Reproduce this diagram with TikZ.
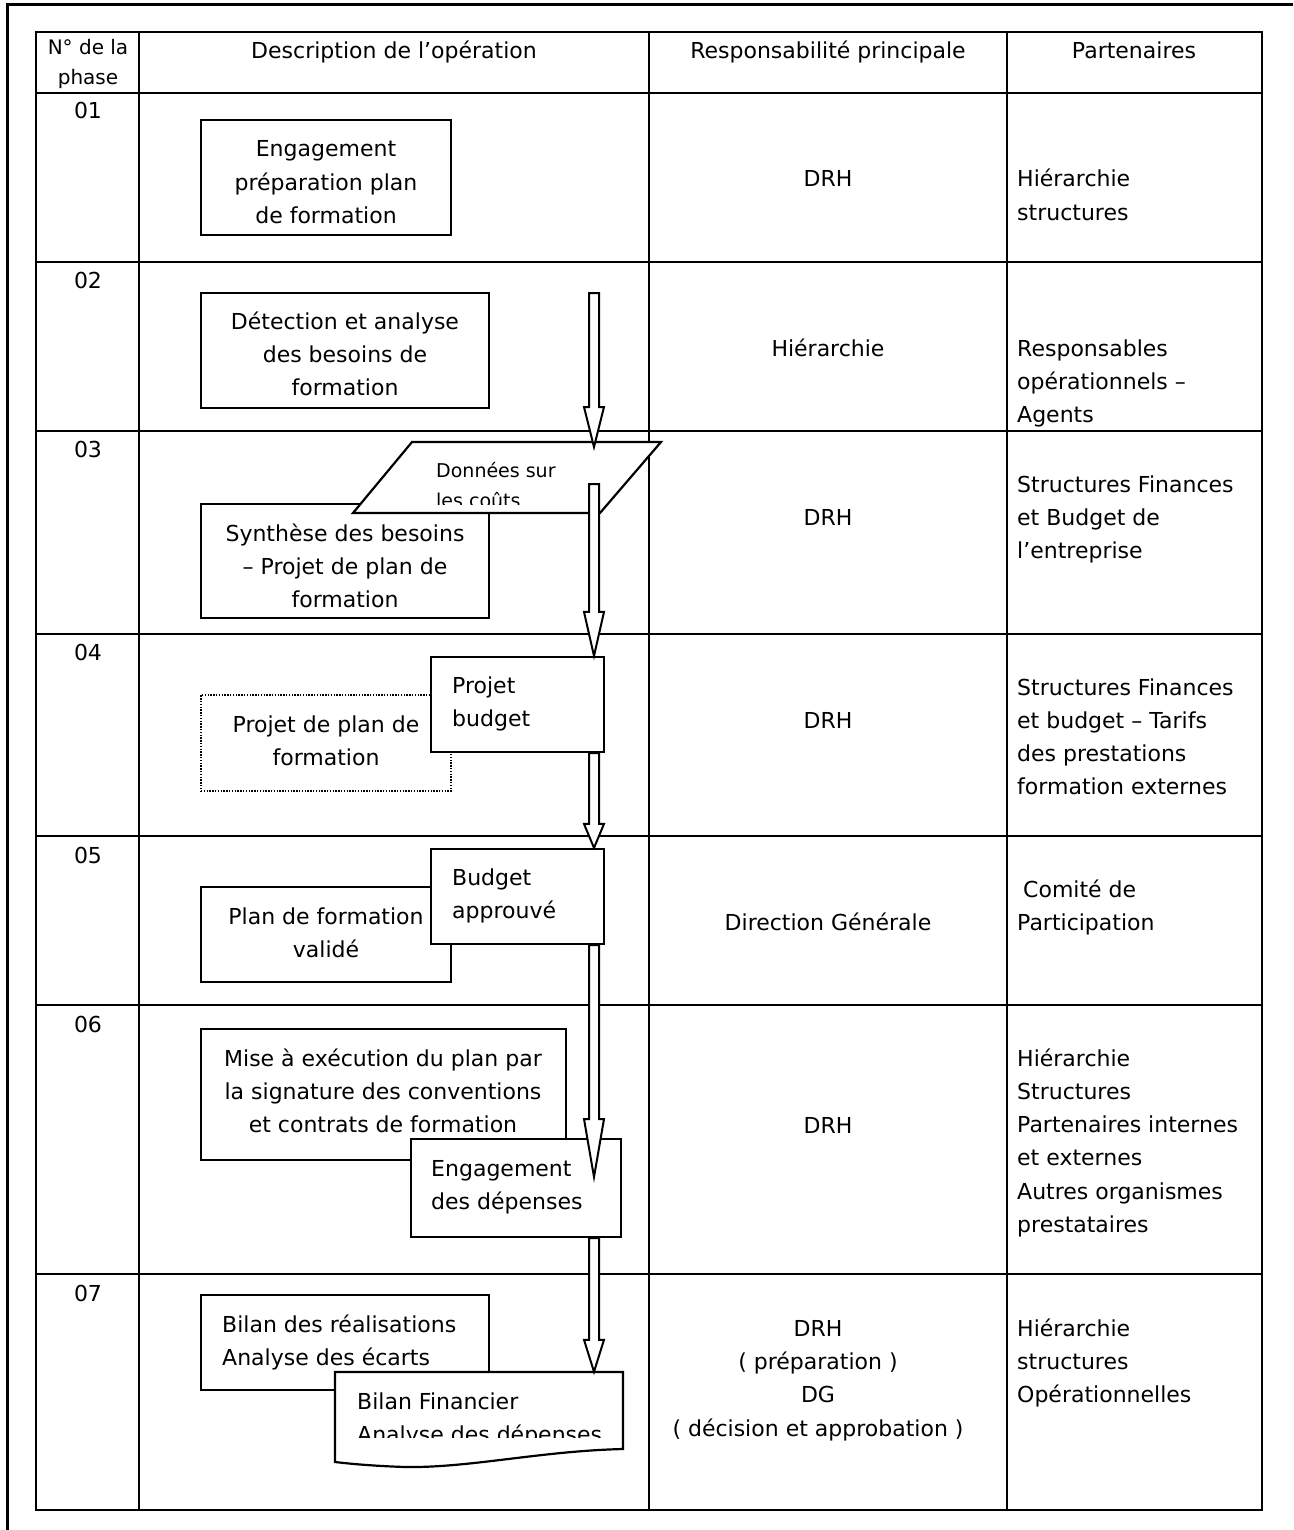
\documentclass[tikz,border=0pt]{standalone}
\usepackage{fontspec}
\setmainfont{DejaVu Sans}
\usetikzlibrary{calc,fit}

% hollow downward arrow: start, tip, head length
\newcommand\hollowarrow[3]{%
  \draw[harrow] let \p1=(#1), \p2=(#2) in
    (\x1-5pt,\y1) -- (\x1-5pt,\y2+#3) -- (\x1-10pt,\y2+#3) -- (\x1,\y2)
    -- (\x1+10pt,\y2+#3) -- (\x1+5pt,\y2+#3) -- (\x1+5pt,\y1) -- cycle;}

\begin{document}
% multi-line texts are placed by the baseline of their last line
\begin{tikzpicture}[x=1pt,y=-1pt,
  every node/.style={inner sep=0pt},
  txt/.style={font=\fontsize{22}{33.3}\selectfont},
  small/.style={font=\fontsize{19}{30}\selectfont},
  hdr/.style={font=\fontsize{20}{30}\selectfont},
  grid/.style={line width=2.2pt},
  frame/.style={line width=3pt},
  box/.style={draw, line width=2.2pt, fill=white, inner sep=0pt},
  dotbox/.style={draw, line width=1.4pt, dash pattern=on 1.4pt off 1.4pt},
  harrow/.style={draw, fill=white, line width=2pt, line join=miter},
  ctext/.style={txt, align=center, anchor=base},
  ltext/.style={txt, align=left, anchor=base west},
]
\useasboundingbox (0,0) rectangle (1293,1530);

% page frame
\draw[frame] (7,1530) -- (7,5) -- (1293,5);

% table grid
\draw[grid, line width=2.8pt] (36,32) rectangle (1262,1510);
\foreach \x in {139,649,1007} \draw[grid] (\x,32) -- (\x,1510);
\foreach \y in {93,262,431,634,836,1005,1274} \draw[grid] (36,\y) -- (1262,\y);

% headers
\node[hdr, align=center, anchor=base] (h1) at (88,85) {N° de la\\phase};
\node[ctext] (h2) at (394,59) {Description de l’opération};
\node[ctext] (h3) at (828,59) {Responsabilité principale};
\node[ctext] (h4) at (1134,59) {Partenaires};

% phase numbers
\node[ctext] (p1) at (88,119) {01};
\node[ctext] (p2) at (88,288) {02};
\node[ctext] (p3) at (88,457) {03};
\node[ctext] (p4) at (88,660) {04};
\node[ctext] (p5) at (88,863) {05};
\node[ctext] (p6) at (88,1032) {06};
\node[ctext] (p7) at (88,1301) {07};

% main responsibility
\node[ctext] (r1) at (828,187) {DRH};
\node[ctext] (r2) at (828,356) {Hiérarchie};
\node[ctext] (r3) at (828,525) {DRH};
\node[ctext] (r4) at (828,728) {DRH};
\node[ctext] (r5) at (828,930) {Direction Générale};
\node[ctext] (r6) at (828,1133) {DRH};
\node[ctext] (r7) at (818,1436) {DRH\\( préparation )\\DG\\( décision et approbation )};

% partners
\node[ltext] (q1) at (1017,220.3) {Hiérarchie\\structures};
\node[ltext] (q2) at (1017,422.6) {Responsables\\opérationnels –\\Agents};
\node[ltext] (q3) at (1017,558.6) {Structures Finances\\et Budget de\\l’entreprise};
\node[ltext] (q4) at (1017,794.9) {Structures Finances\\et budget – Tarifs\\des prestations\\formation externes};
\node[ltext] (q5) at (1017,930.3) {\hspace*{6pt}Comité de\\Participation};
\node[ltext] (q6) at (1017,1232.5) {Hiérarchie\\Structures\\Partenaires internes\\et externes\\Autres organismes\\prestataires};
\node[ltext] (q7) at (1017,1402.6) {Hiérarchie\\structures\\Opérationnelles};

% phase 01
\node[box, fit={(201,120) (451,235)}] (eng) {};
\node[ctext] at (326,223.6) {Engagement\\préparation plan\\de formation};

% phase 02
\node[box, fit={(201,293) (489,408)}] (det) {};
\node[ctext] at (345,395.6) {Détection et analyse\\des besoins de\\formation};

% phase 03
\node[box, fit={(201,504) (489,618)}] (syn) {};
\node[ctext] at (345,607.6) {Synthèse des besoins\\– Projet de plan de\\formation};

\node[fit={(353,442) (661,513)}] (don) {};
\draw[box] (412,442) -- (661,442) -- (600,513) -- (353,513) -- cycle;
\begin{scope}
  \clip (400,446) rectangle (600,504);
  \node[small, align=left, anchor=base west] at (436,507) {Données sur\\les coûts};
\end{scope}

\coordinate (ax) at (594,0);
\coordinate (a1s) at (594,293);
\coordinate (a1e) at (594,447);
\coordinate (a2s) at (594,484);
\coordinate (a4e) at (594,1177);

\hollowarrow{a1s}{a1e}{40pt}

% phase 04
\node[dotbox, fit={(201,695) (451,791)}] (ppf) {};
\node[ctext] at (326,765.3) {Projet de plan de\\formation};
\node[box, fit={(431,657) (604,752)}] (pb) {};
\node[ltext] at (452,726.3) {Projet\\budget};

\hollowarrow{a2s}{ax |- pb.north}{44pt}

% phase 05
\node[box, fit={(201,887) (451,982)}] (pfv) {};
\node[ctext] at (326,957.3) {Plan de formation\\validé};
\node[box, fit={(431,849) (604,944)}] (ba) {};
\node[ltext] at (452,918.3) {Budget\\approuvé};

\hollowarrow{ax |- pb.south}{ax |- ba.north}{24pt}

% phase 06
\node[box, fit={(201,1029) (566,1160)}] (mise) {};
\node[ctext] at (383,1132.6) {Mise à exécution du plan par\\la signature des conventions\\et contrats de formation};
\node[box, fit={(411,1139) (621,1237)}] (engd) {};
\node[ltext] at (431,1209.3) {Engagement\\des dépenses};

\hollowarrow{ax |- ba.south}{a4e}{58pt}

% phase 07
\node[box, fit={(201,1295) (489,1390)}] (bil) {};
\node[ltext] at (222,1365.3) {Bilan des réalisations\\Analyse des écarts};
\node[fit={(335,1372) (623,1449)}] (bfin) {};
\draw[box] (335,1372) -- (623,1372) -- (623,1449)
  .. controls (540,1451) and (470,1468) .. (405,1467)
  .. controls (375,1466) and (352,1464) .. (335,1462) -- cycle;
\begin{scope}
  \clip (340,1376) rectangle (620,1437);
  \node[ltext] at (357,1442.3) {Bilan Financier\\Analyse des dépenses};
\end{scope}

\hollowarrow{ax |- engd.south}{ax |- bfin.north}{32pt}

\end{tikzpicture}
\end{document}
